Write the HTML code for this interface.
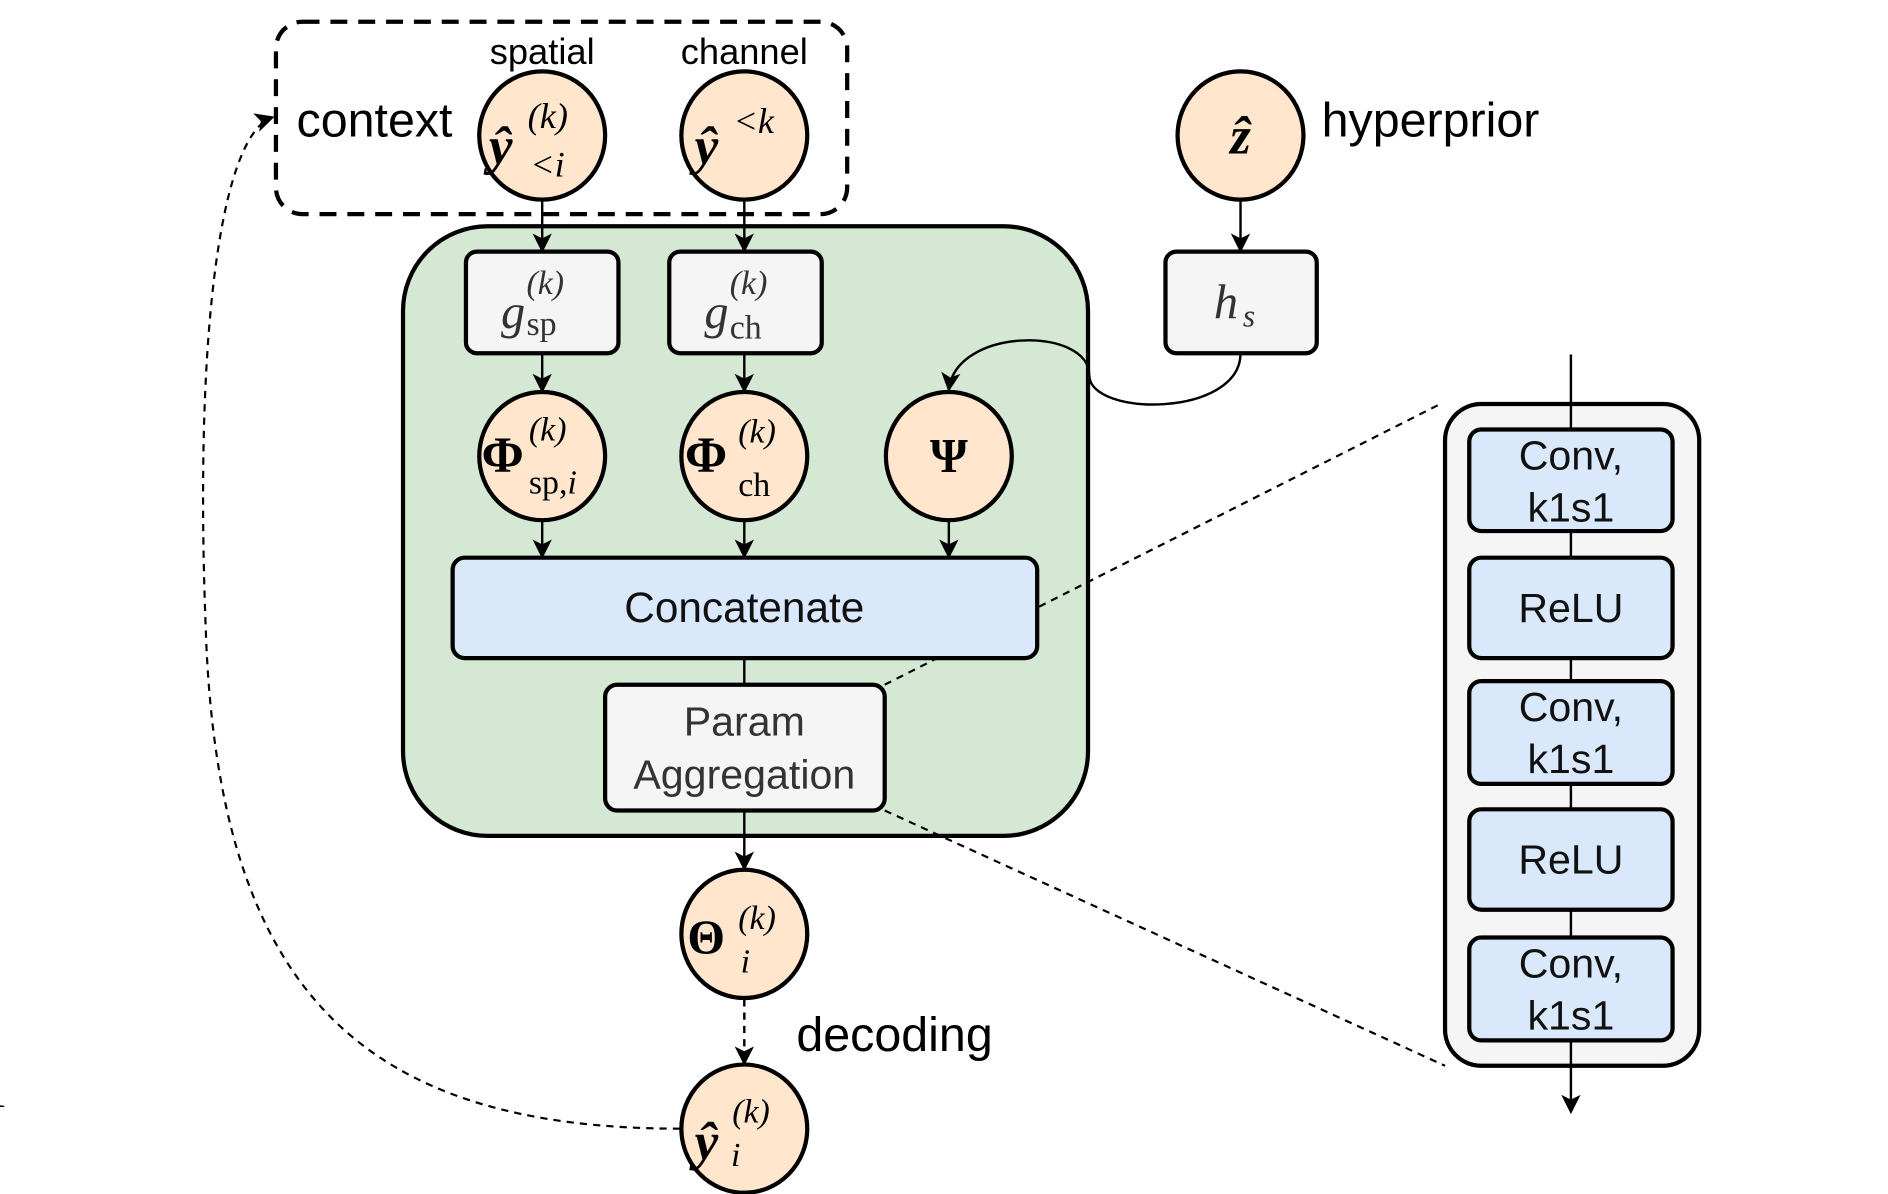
<!DOCTYPE html>
<html><head><meta charset="utf-8"><style>
html,body{margin:0;padding:0;background:#fff;width:1888px;height:1194px;overflow:hidden}
svg{display:block}
.sans{font-family:"Liberation Sans",sans-serif}
.m{font-family:"Liberation Serif",serif}
</style></head><body>
<svg width="1888" height="1194" viewBox="0 0 1560 987" preserveAspectRatio="none" xmlns="http://www.w3.org/2000/svg">
<defs>
<marker id="a" markerWidth="10" markerHeight="10" refX="9" refY="5" orient="auto" markerUnits="userSpaceOnUse">
<path d="M0,0 L10,5 L0,10 L3,5 z" fill="#000"/></marker>
<marker id="b" markerWidth="16" markerHeight="16" refX="14" refY="8" orient="auto" markerUnits="userSpaceOnUse">
<path d="M0,0 L16,8 L0,16 L4,8 z" fill="#000"/></marker>
</defs>
<!-- context dashed box -->
<rect x="228" y="18" width="472" height="159" rx="22" fill="none" stroke="#000" stroke-width="3.5" stroke-dasharray="14,9"/>
<text x="448" y="53" font-size="30" text-anchor="middle" class="sans">spatial</text>
<text x="615" y="53" font-size="30" text-anchor="middle" class="sans">channel</text>
<text x="245" y="113" font-size="40" class="sans">context</text>
<text x="1092" y="113" font-size="40" class="sans">hyperprior</text>
<!-- green box -->
<rect x="333" y="187" width="566" height="504" rx="70" fill="#d5e8d4" stroke="#000" stroke-width="3.5"/>
<!-- dashed zoom lines -->
<line x1="731" y1="566" x2="1190" y2="334" stroke="#000" stroke-width="1.8" stroke-dasharray="6,5"/>
<line x1="731" y1="670" x2="1194" y2="881" stroke="#000" stroke-width="1.8" stroke-dasharray="6,5"/>
<!-- arrows -->
<g stroke="#000" stroke-width="2" fill="none">
<line x1="448" y1="165" x2="448" y2="207" marker-end="url(#b)"/>
<line x1="615" y1="165" x2="615" y2="207" marker-end="url(#b)"/>
<line x1="1025" y1="165" x2="1025" y2="207" marker-end="url(#b)"/>
<line x1="448" y1="292" x2="448" y2="323" marker-end="url(#b)"/>
<line x1="615" y1="292" x2="615" y2="323" marker-end="url(#b)"/>
<line x1="448" y1="430" x2="448" y2="460" marker-end="url(#b)"/>
<line x1="615" y1="430" x2="615" y2="460" marker-end="url(#b)"/>
<line x1="784" y1="430" x2="784" y2="460" marker-end="url(#b)"/>
<line x1="615" y1="544" x2="615" y2="566"/>
<line x1="615" y1="670" x2="615" y2="718" marker-end="url(#b)"/>
<line x1="615" y1="826" x2="615" y2="879" stroke-dasharray="6,5" marker-end="url(#b)"/>
<path d="M1025 292 C1025 345 900 345 900 310 C900 270 790 270 784 322" marker-end="url(#b)"/>
<path d="M562 933 C300 933 180 820 170 520 C160 260 185 110 225 97" stroke-width="1.8" stroke-dasharray="6,5" marker-end="url(#b)"/>
</g>
<!-- circles -->
<g fill="#ffe6cc" stroke="#000" stroke-width="3.5">
<ellipse cx="448" cy="112" rx="52" ry="53"/>
<ellipse cx="615" cy="112" rx="52" ry="53"/>
<ellipse cx="1025" cy="112" rx="52" ry="53"/>
<ellipse cx="448" cy="377" rx="52" ry="53"/>
<ellipse cx="615" cy="377" rx="52" ry="53"/>
<ellipse cx="784" cy="377" rx="52" ry="53"/>
<ellipse cx="615" cy="772" rx="52" ry="53"/>
<ellipse cx="615" cy="933" rx="52" ry="53"/>
</g>
<!-- boxes -->
<g stroke="#000" stroke-width="3.5">
<rect x="385" y="208" width="126" height="84" rx="9" fill="#f5f5f5"/>
<rect x="553" y="208" width="126" height="84" rx="9" fill="#f5f5f5"/>
<rect x="963" y="208" width="125" height="84" rx="9" fill="#f5f5f5"/>
<rect x="374" y="461" width="483" height="83" rx="10" fill="#dae8fc"/>
<rect x="500" y="566" width="231" height="104" rx="10" fill="#f5f5f5"/>
<rect x="1194" y="334" width="210" height="547" rx="30" fill="#f5f5f5"/>
</g>
<line x1="1298" y1="293" x2="1298" y2="919" stroke="#000" stroke-width="2" marker-end="url(#b)"/>
<g stroke="#000" stroke-width="3.5" fill="#dae8fc">
<rect x="1214" y="355" width="168" height="84" rx="10"/>
<rect x="1214" y="461" width="168" height="83" rx="10"/>
<rect x="1214" y="563" width="168" height="85" rx="10"/>
<rect x="1214" y="669" width="168" height="83" rx="10"/>
<rect x="1214" y="775" width="168" height="85" rx="10"/>
</g>
<g class="sans" font-size="34" text-anchor="middle" fill="#111">
<text x="1298" y="388">Conv,</text><text x="1298" y="431">k1s1</text>
<text x="1298" y="514">ReLU</text>
<text x="1298" y="596">Conv,</text><text x="1298" y="639">k1s1</text>
<text x="1298" y="722">ReLU</text>
<text x="1298" y="808">Conv,</text><text x="1298" y="851">k1s1</text>
<text x="615" y="514" font-size="35">Concatenate</text>
<text x="615" y="608" fill="#333">Param</text>
<text x="615" y="652" fill="#333">Aggregation</text>
</g>
<text x="658" y="869" font-size="40" class="sans">decoding</text>
<!-- math labels -->
<g class="m" fill="#000">
<text x="404" y="135" font-size="44" font-weight="bold" font-style="italic">ŷ</text>
<text x="436" y="106" font-size="30" font-style="italic">(k)</text>
<text x="438" y="146" font-size="30" font-style="italic">&lt;i</text>
<text x="574" y="135" font-size="44" font-weight="bold" font-style="italic">ŷ</text>
<text x="606" y="110" font-size="30" font-style="italic">&lt;k</text>
<text x="1025" y="127" font-size="44" font-weight="bold" font-style="italic" text-anchor="middle">ẑ</text>
<text x="414" y="271" font-size="40" font-style="italic" fill="#333">g</text>
<text x="435" y="243" font-size="28" font-style="italic" fill="#333">(k)</text>
<text x="435" y="277" font-size="28" fill="#333">sp</text>
<text x="582" y="271" font-size="40" font-style="italic" fill="#333">g</text>
<text x="603" y="243" font-size="28" font-style="italic" fill="#333">(k)</text>
<text x="603" y="280" font-size="28" fill="#333">ch</text>
<text x="1003" y="263" font-size="40" font-style="italic" fill="#333">h</text>
<text x="1027" y="270" font-size="26" font-style="italic" fill="#333">s</text>
<text x="398" y="390" font-size="42" font-weight="bold">Φ</text>
<text x="437" y="364" font-size="28" font-style="italic">(k)</text>
<text x="437" y="408" font-size="28">sp,<tspan font-style="italic">i</tspan></text>
<text x="566" y="390" font-size="42" font-weight="bold">Φ</text>
<text x="610" y="366" font-size="28" font-style="italic">(k)</text>
<text x="610" y="410" font-size="28">ch</text>
<text x="784" y="390" font-size="40" font-weight="bold" text-anchor="middle">Ψ</text>
<text x="568" y="788" font-size="40" font-weight="bold">Θ</text>
<text x="610" y="768" font-size="28" font-style="italic">(k)</text>
<text x="612" y="804" font-size="28" font-style="italic">i</text>
<text x="574" y="958" font-size="44" font-weight="bold" font-style="italic">ŷ</text>
<text x="605" y="928" font-size="28" font-style="italic">(k)</text>
<text x="604" y="964" font-size="28" font-style="italic">i</text>
<text x="-14" y="862" font-size="46">)</text>
<text x="-14" y="915" font-size="40">1</text>
</g>
</svg>
</body></html>
